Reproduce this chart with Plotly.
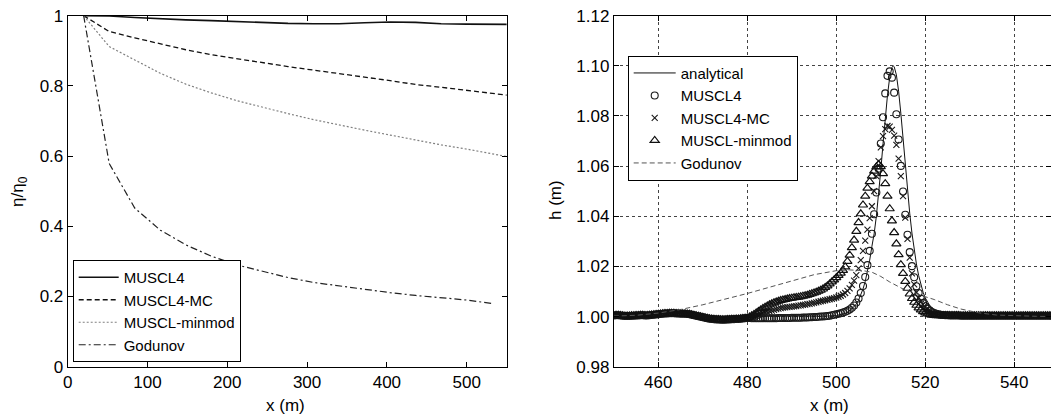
import numpy as np
import plotly.graph_objects as go

# ---------------- Left panel: normalised peak amplitude vs distance ----------------
x_dist = [20, 52, 84, 116, 148, 180, 212, 244, 276, 308, 340, 372, 404, 436, 468, 500, 532, 564]
amp_muscl4 = [1.000, 0.999, 0.995, 0.991, 0.988, 0.986, 0.983, 0.981, 0.978, 0.977,
              0.977, 0.980, 0.982, 0.981, 0.977, 0.976, 0.975, 0.975]
amp_muscl4_mc = [1.000, 0.955, 0.937, 0.920, 0.903, 0.889, 0.877, 0.866, 0.855, 0.845,
                 0.834, 0.825, 0.815, 0.804, 0.796, 0.787, 0.778, 0.770]
amp_minmod = [1.000, 0.912, 0.874, 0.836, 0.805, 0.780, 0.758, 0.739, 0.721, 0.704,
              0.688, 0.674, 0.660, 0.645, 0.632, 0.620, 0.606, 0.593]
x_dist_god = [20, 52, 84, 116, 148, 180, 212, 244, 276, 308, 340, 372, 404, 436, 468, 500, 532]
amp_godunov = [1.000, 0.579, 0.452, 0.389, 0.347, 0.315, 0.290, 0.271, 0.254, 0.240,
               0.230, 0.220, 0.211, 0.203, 0.197, 0.190, 0.180]

# ---------------- Right panel: free surface profile near x = 510 m ----------------
# numerical solutions sampled every 0.5 m from 450 m to 550 m
h_upstream = [
    1.0004, 1.0005, 1.0005, 1.0004, 1.0003, 1.0002, 1.0002, 1.0002, 1.0003, 1.0003,
    1.0004, 1.0004, 1.0005, 1.0005, 1.0004, 1.0004, 1.0005, 1.0006, 1.0007, 1.0008,
    1.0009, 1.0010, 1.0011, 1.0012, 1.0012, 1.0013, 1.0013, 1.0013, 1.0012, 1.0012,
    1.0011, 1.0011, 1.0011, 1.0010, 1.0009, 1.0007, 1.0005, 1.0003, 1.0001, 0.9999,
    0.9997, 0.9995, 0.9993, 0.9991, 0.9990, 0.9989, 0.9988, 0.9988, 0.9987, 0.9987,
    0.9987, 0.9988, 0.9988, 0.9989, 0.9989, 0.9990, 0.9990, 0.9991, 0.9992, 0.9993,
    0.9994,
]
h_downstream = [
    1.0004, 1.0004, 1.0004, 1.0004, 1.0004, 1.0003, 1.0003, 1.0003, 1.0003, 1.0003,
    1.0003, 1.0003, 1.0003, 1.0003, 1.0003, 1.0003, 1.0003, 1.0003, 1.0003, 1.0003,
    1.0003, 1.0003, 1.0003, 1.0003, 1.0003, 1.0003, 1.0003, 1.0003, 1.0003, 1.0003,
    1.0003, 1.0003, 1.0003, 1.0003, 1.0003, 1.0003, 1.0003, 1.0003, 1.0003, 1.0003,
    1.0003, 1.0003, 1.0003, 1.0003, 1.0003, 1.0003, 1.0003, 1.0003, 1.0003, 1.0003,
]
h_muscl4_wave = [
    0.9994, 0.9993, 0.9993, 0.9993, 0.9993, 0.9993, 0.9993, 0.9993, 0.9993, 0.9993,
    0.9993, 0.9993, 0.9993, 0.9994, 0.9994, 0.9994, 0.9994, 0.9994, 0.9994, 0.9995,
    0.9995, 0.9995, 0.9995, 0.9995, 0.9996, 0.9996, 0.9996, 0.9997, 0.9997, 0.9998,
    0.9998, 0.9999, 1.0000, 1.0000, 1.0001, 1.0002, 1.0003, 1.0005, 1.0007, 1.0009,
    1.0011, 1.0013, 1.0016, 1.0019, 1.0023, 1.0028, 1.0035, 1.0044, 1.0056, 1.0072,
    1.0094, 1.0122, 1.0158, 1.0205, 1.0262, 1.0330, 1.0408, 1.0495, 1.0590, 1.0690,
    1.0795, 1.0890, 1.0960, 1.0978, 1.0953, 1.0893, 1.0807, 1.0706, 1.0601, 1.0499,
    1.0406, 1.0326, 1.0257, 1.0201, 1.0157, 1.0121, 1.0094, 1.0071, 1.0054, 1.0041,
    1.0031, 1.0024, 1.0018, 1.0014, 1.0011, 1.0009, 1.0007, 1.0006, 1.0005, 1.0005,
]
h_muscl4_mc_wave = [
    0.9996, 0.9998, 1.0000, 1.0003, 1.0006, 1.0009, 1.0012, 1.0015, 1.0018, 1.0021,
    1.0024, 1.0027, 1.0030, 1.0032, 1.0034, 1.0036, 1.0037, 1.0038, 1.0039, 1.0040,
    1.0041, 1.0042, 1.0044, 1.0045, 1.0047, 1.0048, 1.0050, 1.0051, 1.0053, 1.0055,
    1.0057, 1.0059, 1.0061, 1.0063, 1.0065, 1.0067, 1.0069, 1.0071, 1.0073, 1.0076,
    1.0079, 1.0083, 1.0088, 1.0094, 1.0102, 1.0112, 1.0126, 1.0143, 1.0165, 1.0192,
    1.0225, 1.0262, 1.0303, 1.0347, 1.0393, 1.0440, 1.0500, 1.0560, 1.0620, 1.0675,
    1.0720, 1.0748, 1.0760, 1.0758, 1.0745, 1.0722, 1.0685, 1.0630, 1.0560, 1.0480,
    1.0395, 1.0310, 1.0235, 1.0172, 1.0128, 1.0097, 1.0075, 1.0060, 1.0048, 1.0038,
    1.0030, 1.0023, 1.0017, 1.0013, 1.0010, 1.0008, 1.0006, 1.0005, 1.0005, 1.0004,
]
h_minmod_wave = [
    0.9998, 1.0003, 1.0008, 1.0014, 1.0020, 1.0026, 1.0032, 1.0037, 1.0042, 1.0047,
    1.0051, 1.0055, 1.0058, 1.0061, 1.0064, 1.0066, 1.0068, 1.0070, 1.0072, 1.0073,
    1.0075, 1.0076, 1.0077, 1.0079, 1.0081, 1.0083, 1.0085, 1.0088, 1.0091, 1.0094,
    1.0097, 1.0101, 1.0105, 1.0110, 1.0116, 1.0122, 1.0130, 1.0138, 1.0146, 1.0155,
    1.0164, 1.0173, 1.0184, 1.0198, 1.0220, 1.0245, 1.0275, 1.0305, 1.0340, 1.0375,
    1.0410, 1.0445, 1.0480, 1.0512, 1.0538, 1.0560, 1.0580, 1.0597, 1.0607, 1.0598,
    1.0570, 1.0530, 1.0480, 1.0430, 1.0382, 1.0335, 1.0290, 1.0247, 1.0207, 1.0172,
    1.0140, 1.0113, 1.0090, 1.0072, 1.0057, 1.0045, 1.0035, 1.0027, 1.0020, 1.0015,
    1.0011, 1.0008, 1.0006, 1.0005, 1.0004, 1.0004, 1.0004, 1.0004, 1.0004, 1.0004,
]
h_muscl4 = h_upstream + h_muscl4_wave + h_downstream
h_muscl4_mc = h_upstream + h_muscl4_mc_wave + h_downstream
h_minmod = h_upstream + h_minmod_wave + h_downstream
x_grid = 450.0 + 0.5 * np.arange(len(h_muscl4))

x_analytical = [450, 470, 490, 495, 498, 500, 501, 502, 503, 504, 504.5, 505, 505.5, 506, 506.5,
                507, 507.5, 508, 508.5, 509, 509.5, 510, 510.5, 511, 511.5, 512, 512.5, 512.8,
                513, 513.5, 514, 514.5, 515, 515.5, 516, 516.5, 517, 517.5, 518, 518.5, 519,
                519.5, 520, 521, 522, 523, 524, 526, 528, 530, 550]
h_analytical = [1.0000, 1.0000, 1.0000, 1.0001, 1.0002, 1.0004, 1.0007, 1.0013, 1.0022, 1.0038,
                1.0050, 1.0065, 1.0085, 1.0110, 1.0140, 1.0180, 1.0225, 1.0280, 1.0330, 1.0400,
                1.0484, 1.0584, 1.0689, 1.0792, 1.0883, 1.0954, 1.0993, 1.1000, 1.0997, 1.0964,
                1.0899, 1.0811, 1.0709, 1.0604, 1.0503, 1.0412, 1.0333, 1.0265, 1.0210, 1.0164,
                1.0128, 1.0097, 1.0074, 1.0044, 1.0026, 1.0015, 1.0009, 1.0003, 1.0001, 1.0000,
                1.0000]

x_godunov = [450, 455, 460, 465, 470, 475, 480, 485, 490, 495, 500, 503, 506, 508, 510, 512,
             515, 518, 520, 522, 525, 528, 532, 536, 540, 545, 550]
h_godunov = [1.0002, 1.0005, 1.0014, 1.0028, 1.0047, 1.0069, 1.0092, 1.0117, 1.0143, 1.0167,
             1.0183, 1.0186, 1.0183, 1.0177, 1.0160, 1.0138, 1.0110, 1.0090, 1.0079, 1.0068,
             1.0047, 1.0030, 1.0015, 1.0006, 1.0003, 1.0001, 1.0000]

FONT = "Liberation Sans, Arial, sans-serif"
W, H = 1051, 416

fig = go.Figure()

# left panel traces
fig.add_trace(go.Scatter(x=x_dist, y=amp_muscl4, mode="lines", name="MUSCL4",
                         line=dict(color="#111", width=1.6), xaxis="x", yaxis="y", legend="legend"))
fig.add_trace(go.Scatter(x=x_dist, y=amp_muscl4_mc, mode="lines", name="MUSCL4-MC",
                         line=dict(color="#111", width=1.3, dash="5px,3px"), xaxis="x", yaxis="y",
                         legend="legend"))
fig.add_trace(go.Scatter(x=x_dist, y=amp_minmod, mode="lines", name="MUSCL-minmod",
                         line=dict(color="#808080", width=1.2, dash="2px,2px"), xaxis="x", yaxis="y",
                         legend="legend"))
fig.add_trace(go.Scatter(x=x_dist_god, y=amp_godunov, mode="lines", name="Godunov",
                         line=dict(color="#222", width=1.2, dash="7px,3px,2px,3px"), xaxis="x",
                         yaxis="y", legend="legend"))

# right panel traces
fig.add_trace(go.Scatter(x=x_analytical, y=h_analytical, mode="lines", name="analytical",
                         line=dict(color="#111", width=1), xaxis="x2", yaxis="y2", legend="legend2"))
fig.add_trace(go.Scatter(x=x_grid, y=h_muscl4, mode="markers", name="MUSCL4",
                         marker=dict(symbol="circle-open", size=7, color="#1a1a1a",
                                     line=dict(width=1.1, color="#1a1a1a")),
                         xaxis="x2", yaxis="y2", legend="legend2"))
fig.add_trace(go.Scatter(x=x_grid, y=h_muscl4_mc, mode="markers", name="MUSCL4-MC",
                         marker=dict(symbol="x-thin-open", size=6, color="#1a1a1a",
                                     line=dict(width=1.1, color="#1a1a1a")),
                         xaxis="x2", yaxis="y2", legend="legend2"))
fig.add_trace(go.Scatter(x=x_grid, y=h_minmod, mode="markers", name="MUSCL-minmod",
                         marker=dict(symbol="triangle-up-open", size=8, color="#111",
                                     line=dict(width=1.2, color="#111")),
                         xaxis="x2", yaxis="y2", legend="legend2"))
fig.add_trace(go.Scatter(x=x_godunov, y=h_godunov, mode="lines", name="Godunov",
                         line=dict(color="#555", width=1, dash="5px,3px"),
                         xaxis="x2", yaxis="y2", legend="legend2"))

axis_common = dict(showline=True, linecolor="black", linewidth=1, mirror="ticks",
                   ticks="inside", ticklen=5, tickcolor="black", tickwidth=1,
                   zeroline=False, tickfont=dict(family=FONT, size=17, color="black"))

y_dom = [(H - 366.7) / H, (H - 15.7) / H]

fig.update_layout(
    width=W, height=H, autosize=False,
    margin=dict(l=0, r=0, t=0, b=0, pad=0, autoexpand=False),
    paper_bgcolor="white", plot_bgcolor="white",
    font=dict(family=FONT, size=17, color="black"),
    xaxis=dict(domain=[67.7 / W, 506.6 / W], range=[0, 550], tickvals=[0, 100, 200, 300, 400, 500],
               showgrid=False, anchor="y", **axis_common),
    yaxis=dict(domain=y_dom, range=[0, 1], tickvals=[0, 0.2, 0.4, 0.6, 0.8, 1],
               ticktext=["0", "0.2", "0.4", "0.6", "0.8", "1"],
               showgrid=False, anchor="x", **axis_common),
    xaxis2=dict(domain=[613.8 / W, 1.0], range=[450, 450 + (W - 613.8) / 4.45],
                tickvals=[460, 480, 500, 520, 540], showgrid=True, gridcolor="#444",
                griddash="dot", gridwidth=1, anchor="y2", **axis_common),
    yaxis2=dict(domain=y_dom, range=[0.98, 1.12],
                tickvals=[0.98, 1.00, 1.02, 1.04, 1.06, 1.08, 1.10, 1.12], tickformat=".2f",
                showgrid=True, gridcolor="#444", griddash="dot", gridwidth=1, anchor="x2",
                **axis_common),
    legend=dict(x=72.7 / W, y=1 - 362 / H, xanchor="left", yanchor="bottom",
                bgcolor="white", bordercolor="black", borderwidth=1, itemwidth=40,
                entrywidth=135, entrywidthmode="pixels",
                font=dict(family=FONT, size=15, color="black"), tracegroupgap=0),
    legend2=dict(x=627.7 / W, y=1 - 55.7 / H, xanchor="left", yanchor="top",
                 bgcolor="white", bordercolor="black", borderwidth=1, itemwidth=42,
                 entrywidth=135, entrywidthmode="pixels",
                 font=dict(family=FONT, size=15, color="black"), tracegroupgap=0),
    showlegend=True,
)

titles = [
    dict(text="x (m)", x=285 / W, y=1 - 405 / H, textangle=0),
    dict(text="x (m)", x=829 / W, y=1 - 405 / H, textangle=0),
    dict(text="η/η<sub>0</sub>", x=19 / W, y=1 - 192 / H, textangle=-90),
    dict(text="h (m)", x=555 / W, y=1 - 200 / H, textangle=-90),
]
for t in titles:
    fig.add_annotation(xref="paper", yref="paper", showarrow=False, xanchor="center",
                       yanchor="middle", font=dict(family=FONT, size=17, color="black"), **t)

fig.write_html("out.html")
